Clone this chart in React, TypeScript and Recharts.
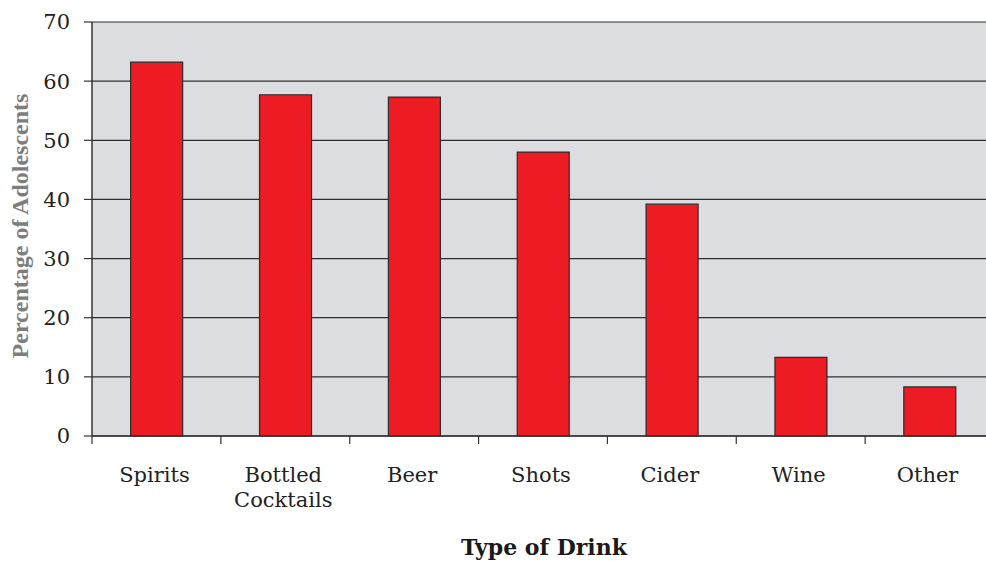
import { Bar, BarChart, CartesianGrid, Label, XAxis, YAxis } from "recharts";

const drinks = ["Spirits", "Bottled Cocktails", "Beer", "Shots", "Cider", "Wine", "Other"];
const percentages = [63.2, 57.7, 57.3, 48.0, 39.2, 13.3, 8.3];
const yTicks = [0, 10, 20, 30, 40, 50, 60, 70];

const data = drinks.map((name, i) => ({ name, value: percentages[i] }));

const W = 1000;
const H = 561;
const M = { top: 22, right: 6, bottom: 0, left: 0 };
const Y_W = 92;
const X_H = 125;
const band = (W - M.left - M.right - Y_W) / drinks.length;
const serif = "'DejaVu Serif', serif";

const DrinkTick = (props: any) => {
  const { x, y, payload } = props;
  const lines: string[] =
    payload.value === "Bottled Cocktails" ? ["Bottled", "Cocktails"] : [payload.value];
  return (
    <g>
      <line x1={x - band / 2} x2={x - band / 2} y1={y} y2={y + 8} stroke="#333" strokeWidth={1.2} />
      <text x={x - 2} y={y + 46} textAnchor="middle" fontFamily={serif} fontSize={21} fill="#222">
        {lines.map((l, i) => (
          <tspan key={l} x={x - 2} dy={i === 0 ? 0 : 25}>
            {l}
          </tspan>
        ))}
      </text>
    </g>
  );
};

export default function App() {
  return (
    <div style={{ position: "absolute", left: 0, top: 0, width: 986, height: 561, overflow: "hidden", background: "#fff" }}>
      <BarChart width={W} height={H} data={data} margin={M} barCategoryGap="30%">
        <CartesianGrid vertical={false} fill="#dcdde0" stroke="#2e2e2e" strokeWidth={1.2} />
        <XAxis
          dataKey="name"
          height={X_H}
          interval={0}
          tickLine={false}
          tickSize={0}
          tickMargin={0}
          axisLine={{ stroke: "#333", strokeWidth: 1.5 }}
          tick={<DrinkTick />}
        >
          <Label
            content={() => (
              <text x={544} y={555} textAnchor="middle" fontFamily={serif} fontWeight="bold" fontSize={22} fill="#1a1a1a">
                Type of Drink
              </text>
            )}
          />
        </XAxis>
        <YAxis
          width={Y_W}
          domain={[0, 70]}
          ticks={yTicks}
          interval={0}
          tickSize={8}
          tickMargin={14}
          axisLine={{ stroke: "#333", strokeWidth: 1.5 }}
          tickLine={{ stroke: "#333", strokeWidth: 1.2 }}
          tick={{ fontFamily: serif, fontSize: 21, fill: "#222" }}
        >
          <Label
            content={() => (
              <text
                x={28}
                y={226}
                transform="rotate(-90 28 226)"
                textAnchor="middle"
                fontFamily="'Liberation Serif', serif"
                fontWeight="bold"
                fontSize={24}
                fill="#7d7d7d"
              >
                Percentage of Adolescents
              </text>
            )}
          />
        </YAxis>
        <Bar dataKey="value" fill="#ed1c24" stroke="#2b2b2b" strokeWidth={1.2} isAnimationActive={false} />
      </BarChart>
    </div>
  );
}
